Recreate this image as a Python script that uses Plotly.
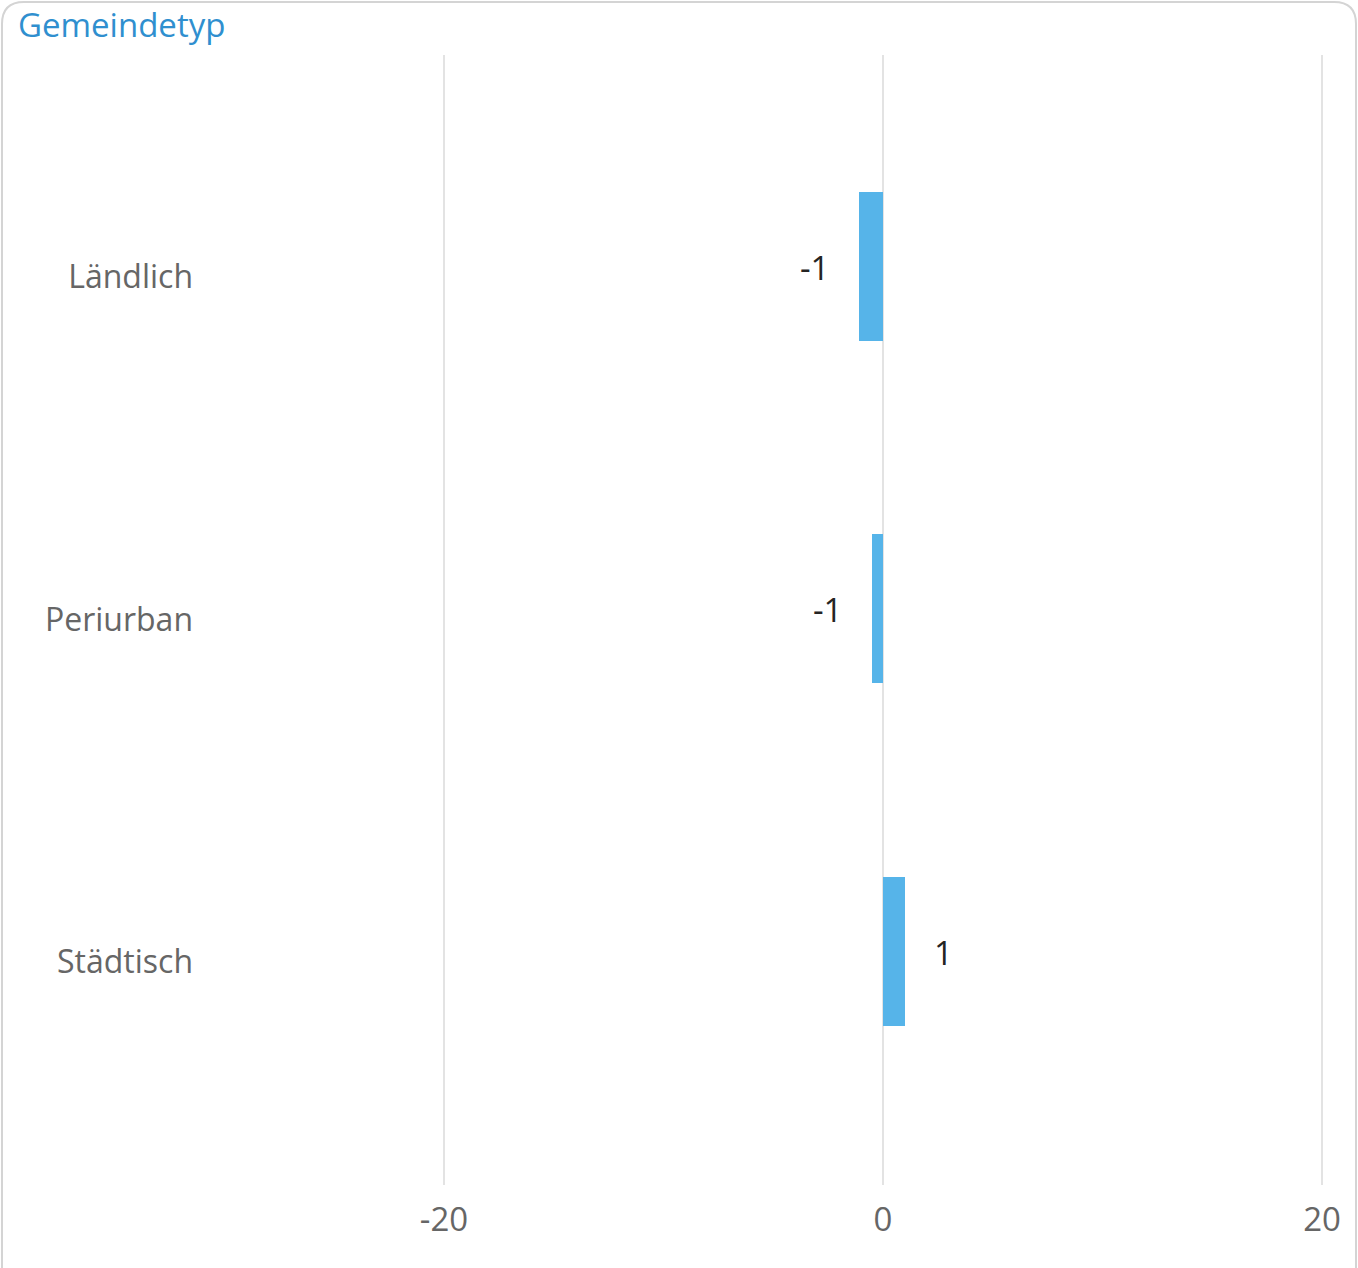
import plotly.graph_objects as go

categories = ["Ländlich", "Periurban", "Städtisch"]
values = [-1.1, -0.5, 1.0]
value_labels = ["-1", "-1", "1"]
x_ticks = [-20, 0, 20]
x_tick_labels = ["-20", "0", "20"]

W, H = 1358, 1268
L, R, T, B = 211, 18, 55, 83
FONT = "Open Sans, Noto Sans, sans-serif"

def px_x(p):
    return (p - L) / (W - L - R)

def px_y(p):
    return 1 - (p - T) / (H - T - B)

fig = go.Figure()
fig.add_trace(go.Bar(
    x=values, y=categories, orientation="h",
    marker=dict(color="#56b4e9", line=dict(width=0)),
    width=0.435, hoverinfo="skip",
))

for c, v, t in zip(categories, values, value_labels):
    fig.add_annotation(
        x=v, y=c, xref="x", yref="y", text=t, showarrow=False,
        xanchor="right" if v < 0 else "left",
        xshift=-27 if v < 0 else 27, yshift=-1,
        font=dict(family=FONT, size=33, color="#252423"),
    )

fig.add_annotation(
    x=px_x(16), y=px_y(25), xref="paper", yref="paper",
    text="Gemeindetyp", showarrow=False, xanchor="left", yanchor="middle",
    font=dict(family=FONT, size=33, color="#2f8fcf"),
)

# rounded border around the visual
r = 22
x0, x1, y0, y1 = px_x(2), px_x(1356), px_y(2), px_y(1290)
rx = r / (W - L - R)
ry = r / (H - T - B)
path = (f"M {x0+rx},{y0} L {x1-rx},{y0} Q {x1},{y0} {x1},{y0-ry} "
        f"L {x1},{y1+ry} Q {x1},{y1} {x1-rx},{y1} "
        f"L {x0+rx},{y1} Q {x0},{y1} {x0},{y1+ry} "
        f"L {x0},{y0-ry} Q {x0},{y0} {x0+rx},{y0} Z")
fig.add_shape(type="path", path=path, xref="paper", yref="paper",
              line=dict(color="#d4d4d4", width=2), layer="below")

fig.update_layout(
    width=W, height=H,
    margin=dict(l=L, r=R, t=T, b=B, pad=0),
    paper_bgcolor="white", plot_bgcolor="white",
    showlegend=False,
    font=dict(family=FONT),
    bargap=0,
)
fig.update_xaxes(
    range=[-30.615, 20.82],
    tickvals=x_ticks, ticktext=x_tick_labels,
    showgrid=True, gridcolor="#e3e3e3", gridwidth=2,
    zeroline=False, showline=False, ticks="",
    tickfont=dict(family=FONT, size=33, color="#666666"),
    ticklabelstandoff=12,
)
fig.update_yaxes(
    categoryorder="array", categoryarray=categories[::-1],
    range=[-0.683, 2.616],
    showgrid=False, zeroline=False, showline=False, ticks="",
    tickfont=dict(family=FONT, size=32, color="#666666"),
    ticklabelstandoff=17, ticklabelshift=11,
)

fig.write_html(
    "out.html",
    config={"displayModeBar": False},
    post_script="document.body.style.margin='0px';document.body.style.overflow='hidden';",
)
